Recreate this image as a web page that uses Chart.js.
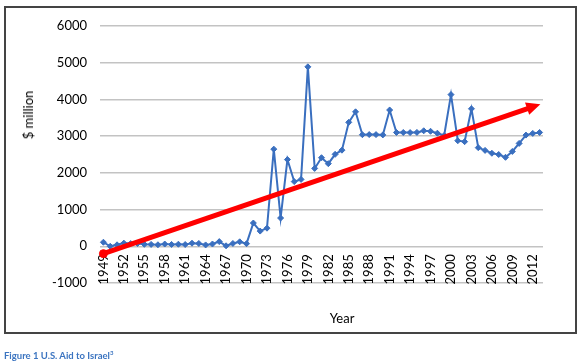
<!DOCTYPE html>
<html lang="en">
<head>
    <meta charset="UTF-8">
    <title>U.S. Aid to Israel</title>
    <style>
        body {
            margin: 0;
            background: #fff;
            font-family: Lato, sans-serif;
        }

        .wrap {
            position: relative;
            width: 580px;
            height: 364px;
            overflow: hidden;
        }

        .frame {
            position: absolute;
            left: 4px;
            top: 6px;
            width: 573px;
            height: 328px;
            box-sizing: border-box;
            border: 2px solid #444;
        }

        canvas {
            position: absolute;
            left: 0;
            top: 0;
        }

        .ytitle {
            position: absolute;
            left: 28px;
            top: 115px;
            transform: translate(-50%, -50%) rotate(-90deg);
            font-size: 13px;
            white-space: nowrap;
        }

        .xtitle {
            position: absolute;
            left: 342px;
            top: 318px;
            transform: translate(-50%, -50%);
            font-size: 13px;
        }

        .caption {
            position: absolute;
            left: 4px;
            top: 349px;
            font-size: 9.5px;
            font-weight: bold;
            color: #3b74c0;
            white-space: nowrap;
        }

        .caption sup {
            font-size: 6px;
        }
    </style>
    <script src="https://cdn.jsdelivr.net/npm/chart.js"></script>
</head>
<body>
    <div class="wrap">
        <div class="frame"></div>
        <canvas id="chart" width="580" height="364"></canvas>
        <div class="ytitle">$ million</div>
        <div class="xtitle">Year</div>
        <div class="caption">Figure 1 U.S. Aid to Israel<sup>3</sup></div>
    </div>

    <script>
        // categories
        const years = [
            '1949', '1950', '1951', '1952', '1953', '1954', '1955', '1956', '1957', '1958',
            '1959', '1960', '1961', '1962', '1963', '1964', '1965', '1966', '1967', '1968',
            '1969', '1970', '1971', '1972', '1973', '1974', '1975', '1976', '1977', '1978',
            '1979', '1980', '1981', '1982', '1983', '1984', '1985', '1986', '1987', '1988',
            '1989', '1990', '1991', '1992', '1993', '1994', '1995', '1996', '1997', '1998',
            '1999', '2000', '2001', '2002', '2003', '2004', '2005', '2006', '2007', '2008',
            '2009', '2010', '2011', '2012', '2013'
        ];

        // aid, $ million
        const aid = [
            110, 0, 40, 86, 74, 75, 53, 51, 41, 61,
            50, 56, 48, 84, 77, 37, 62, 127, 13, 77,
            122, 71, 634, 414, 493, 2646, 770, 2362, 1762, 1822,
            4888, 2121, 2413, 2250, 2505, 2618, 3376, 3663, 3040, 3043,
            3042, 3034, 3712, 3100, 3100, 3097, 3102, 3146, 3132, 3080,
            3020, 4131, 2876, 2850, 3745, 2687, 2612, 2534, 2500, 2423,
            2583, 2803, 3029, 3075, 3100
        ];

        // trend arrow ends
        const arrowYears = ['1949', '2012'];
        const arrowValues = [-200, 3800];

        // y axis
        const yMin = -1000;
        const yMax = 6000;
        const yStep = 1000;

        const blue = '#3a6fbf';
        const red = '#ff0000';

        // draws the head of the red arrow past its last point
        const arrowHead = {
            id: 'arrowHead',
            afterDatasetsDraw(chart) {
                const pts = chart.getDatasetMeta(1).data;
                const a = pts[0];
                const b = pts[pts.length - 1];
                const ang = Math.atan2(b.y - a.y, b.x - a.x);
                const ctx = chart.ctx;
                ctx.save();
                ctx.translate(b.x, b.y);
                ctx.rotate(ang);
                ctx.beginPath();
                ctx.moveTo(8, 0);
                ctx.lineTo(-6, -6.5);
                ctx.lineTo(-6, 6.5);
                ctx.closePath();
                ctx.fillStyle = red;
                ctx.fill();
                ctx.restore();
            }
        };

        Chart.defaults.font.family = 'Lato, sans-serif';
        Chart.defaults.font.size = 13;
        Chart.defaults.color = '#000';

        new Chart(document.getElementById('chart'), {
            type: 'line',
            data: {
                labels: years,
                datasets: [{
                    label: 'Aid',
                    data: aid,
                    borderColor: blue,
                    backgroundColor: blue,
                    borderWidth: 2,
                    pointStyle: 'rectRot',
                    pointRadius: 3,
                    pointBorderWidth: 1,
                    tension: 0,
                    order: 1
                }, {
                    label: 'Trend',
                    data: arrowYears.map((x, i) => ({ x: x, y: arrowValues[i] })),
                    borderColor: red,
                    backgroundColor: red,
                    borderWidth: 5,
                    pointStyle: 'circle',
                    pointRadius: ctx => ctx.dataIndex === 0 ? 4 : 0,
                    pointBorderWidth: 1,
                    order: 0
                }]
            },
            options: {
                responsive: false,
                animation: false,
                devicePixelRatio: 1,
                layout: {
                    padding: { left: 0, right: 37, top: 26, bottom: 81 }
                },
                plugins: {
                    legend: { display: false },
                    tooltip: { enabled: false }
                },
                scales: {
                    x: {
                        type: 'category',
                        offset: true,
                        position: { y: 0 },
                        afterFit: scale => { scale.height = 0; },
                        grid: { display: false, drawTicks: false },
                        border: { display: false },
                        ticks: {
                            autoSkip: false,
                            minRotation: 90,
                            maxRotation: 90,
                            padding: 8,
                            callback: function (value, index) {
                                return index % 3 === 0 ? this.getLabelForValue(value) : '';
                            }
                        }
                    },
                    y: {
                        min: yMin,
                        max: yMax,
                        afterFit: scale => { scale.width = 100; },
                        grid: { color: '#c3c3c3', lineWidth: 1.5, drawTicks: false },
                        border: { display: false },
                        ticks: {
                            stepSize: yStep,
                            padding: 13,
                            callback: v => String(v)
                        }
                    }
                }
            },
            plugins: [arrowHead]
        });
    </script>
</body>
</html>
